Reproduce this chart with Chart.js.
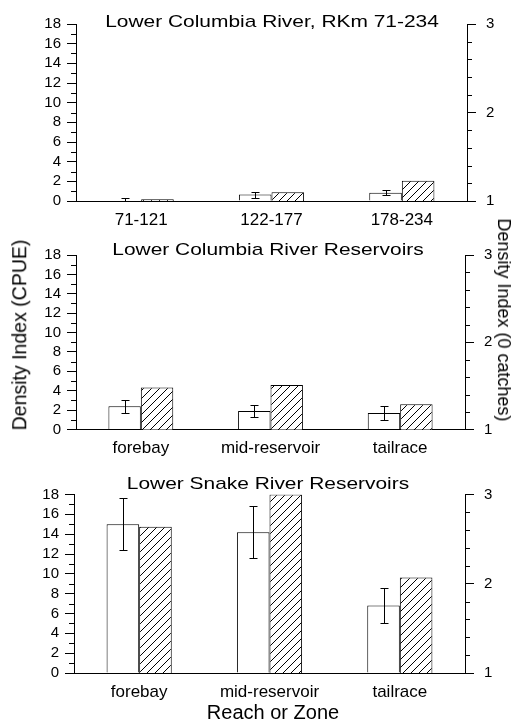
<!DOCTYPE html>
<html>
<head>
<meta charset="utf-8">
<script src="https://cdn.jsdelivr.net/npm/chart.js@4.4.1/dist/chart.umd.min.js"></script>
<style>
    body { margin: 0; background: #fff; }
    #page { position: relative; width: 517px; height: 725px; overflow: hidden;
            font-family: "Liberation Sans", Arial, sans-serif; color: #000; }
    canvas { position: absolute; left: 0; }
    .txt { position: absolute; white-space: nowrap; line-height: 1; }
    .titre { font-size: 17px; transform: translate(-50%, -50%) scaleX(1.23); }
    .axe-g { font-size: 19.5px; transform: translate(-50%, -50%) rotate(-90deg); }
    .axe-d { font-size: 18px; transform: translate(-50%, -50%) rotate(90deg); }
    .axe-x { font-size: 20px; transform: translate(-50%, -50%); }
</style>
</head>
<body>
<div id="page">
    <canvas id="c1" width="517" height="236" style="top:0px"></canvas>
    <canvas id="c2" width="517" height="232" style="top:236px"></canvas>
    <canvas id="c3" width="517" height="257" style="top:468px"></canvas>

    <div class="txt titre" style="left:272px; top:21px">Lower Columbia River, RKm 71-234</div>
    <div class="txt titre" style="left:268px; top:249px">Lower Columbia River Reservoirs</div>
    <div class="txt titre" style="left:268px; top:483px">Lower Snake River Reservoirs</div>
    <div class="txt axe-g" style="left:20px; top:335px">Density Index (CPUE)</div>
    <div class="txt axe-d" style="left:504px; top:320px">Density Index (0 catches)</div>
    <div class="txt axe-x" style="left:273px; top:712px">Reach or Zone</div>
</div>

<script>
// Données
const categoriesTroncons = ["71-121", "122-177", "178-234"];
const categoriesZones = ["forebay", "mid-reservoir", "tailrace"];

// Lower Columbia River, RKm 71-234
const cpueColumbia = [0.05, 0.65, 0.85];
const erreurColumbia = [0.3, 0.3, 0.25];
const zeroColumbia = [1.02, 1.1, 1.23];

// Lower Columbia River Reservoirs
const cpueReservoirs = [2.4, 1.9, 1.7];
const erreurReservoirs = [0.65, 0.6, 0.75];
const zeroReservoirs = [1.48, 1.51, 1.29];

// Lower Snake River Reservoirs
const cpueSnake = [15.0, 14.2, 6.8];
const erreurSnake = [2.6, 2.65, 1.75];
const zeroSnake = [2.64, 3.0, 2.07];

// Graduations secondaires (sans étiquette)
const mineuresGauche = [1, 3, 5, 7, 9, 11, 13, 15, 17];
const mineuresDroite = [1.2, 1.4, 1.6, 1.8, 2.2, 2.4, 2.6, 2.8];

const police = "'Liberation Sans', Arial, sans-serif";

// Motif hachuré pour les barres "0 catches"
function creerHachures(ctx) {
    const c = document.createElement("canvas");
    c.width = 8;
    c.height = 8;
    const g = c.getContext("2d");
    g.fillStyle = "#fff";
    g.fillRect(0, 0, 8, 8);
    g.strokeStyle = "#000";
    g.lineWidth = 1;
    g.beginPath();
    g.moveTo(0, 8); g.lineTo(8, 0);
    g.moveTo(-1, 1); g.lineTo(1, -1);
    g.moveTo(7, 9); g.lineTo(9, 7);
    g.stroke();
    return ctx.createPattern(c, "repeat");
}

// Barres d'erreur sur les barres blanches
const pluginErreurs = {
    id: "barresErreur",
    afterDatasetsDraw(chart) {
        const ds = chart.data.datasets[0];
        const meta = chart.getDatasetMeta(0);
        const y = chart.scales.y;
        const ctx = chart.ctx;
        ctx.save();
        ctx.strokeStyle = "#000";
        ctx.lineWidth = 1;
        meta.data.forEach((barre, i) => {
            const v = ds.data[i];
            const e = ds.erreurs[i];
            const x = Math.round(barre.x) + 0.5;
            const haut = Math.round(y.getPixelForValue(v + e)) + 0.5;
            const bas = Math.round(y.getPixelForValue(Math.max(v - e, 0))) + 0.5;
            ctx.beginPath();
            ctx.moveTo(x, haut); ctx.lineTo(x, bas);
            ctx.moveTo(x - 4, haut); ctx.lineTo(x + 4, haut);
            if (v - e > 0) {
                ctx.moveTo(x - 4, bas); ctx.lineTo(x + 4, bas);
            }
            ctx.stroke();
        });
        ctx.restore();
    }
};

// Petites graduations intermédiaires
const pluginMineures = {
    id: "graduationsMineures",
    afterDraw(chart) {
        const ctx = chart.ctx;
        const y = chart.scales.y;
        const y1 = chart.scales.y1;
        ctx.save();
        ctx.strokeStyle = "#000";
        ctx.lineWidth = 1;
        ctx.beginPath();
        mineuresGauche.forEach((v) => {
            const py = Math.round(y.getPixelForValue(v)) + 0.5;
            ctx.moveTo(chart.chartArea.left - 5, py);
            ctx.lineTo(chart.chartArea.left, py);
        });
        mineuresDroite.forEach((v) => {
            const py = Math.round(y1.getPixelForValue(v)) + 0.5;
            ctx.moveTo(chart.chartArea.right, py);
            ctx.lineTo(chart.chartArea.right + 5, py);
        });
        ctx.stroke();
        ctx.restore();
    }
};

function genererPanneau(p) {
    const ctx = document.getElementById(p.id).getContext("2d");

    return new Chart(ctx, {
        type: "bar",
        data: {
            labels: p.categories,
            datasets: [
                {
                    label: "Density Index (CPUE)",
                    data: p.cpue,
                    erreurs: p.erreurs,
                    yAxisID: "y",
                    backgroundColor: "#fff",
                    borderColor: "#000",
                    borderWidth: 1,
                },
                {
                    label: "Density Index (0 catches)",
                    data: p.zero,
                    yAxisID: "y1",
                    backgroundColor: creerHachures(ctx),
                    borderColor: "#000",
                    borderWidth: 1,
                },
            ],
        },
        options: {
            responsive: false,
            animation: false,
            devicePixelRatio: 1,
            layout: { padding: { top: p.zoneHaut, left: 0, right: 0, bottom: 0 } },
            datasets: { bar: { categoryPercentage: 0.5, barPercentage: 1.0 } },
            plugins: {
                legend: { display: false },
                tooltip: { enabled: false },
                title: { display: false },
            },
            scales: {
                x: {
                    offset: true,
                    grid: { display: false, drawTicks: false },
                    border: { display: true, color: "#000", width: 1 },
                    ticks: { color: "#000", font: { family: police, size: 17 }, padding: 9, maxRotation: 0 },
                    afterFit: (s) => { s.height = p.hauteur - p.zoneBas; },
                },
                y: {
                    position: "left",
                    min: 0,
                    max: 18,
                    ticks: { stepSize: 2, autoSkip: false, color: "#000", font: { family: police, size: 15 }, padding: 6 },
                    grid: { drawOnChartArea: false, color: "#000", tickLength: 9 },
                    border: { color: "#000", width: 1 },
                    afterFit: (s) => { s.width = p.gauche; },
                },
                y1: {
                    position: "right",
                    min: 1,
                    max: 3,
                    ticks: { stepSize: 1, autoSkip: false, color: "#000", font: { family: police, size: 15 }, padding: 10 },
                    grid: { drawOnChartArea: false, color: "#000", tickLength: 9 },
                    border: { color: "#000", width: 1 },
                    afterFit: (s) => { s.width = 517 - p.droite; },
                },
            },
        },
        plugins: [pluginErreurs, pluginMineures],
    });
}

genererPanneau({ id: "c1", hauteur: 236, zoneHaut: 24, zoneBas: 201, gauche: 76, droite: 467,
    categories: categoriesTroncons, cpue: cpueColumbia, erreurs: erreurColumbia, zero: zeroColumbia });
genererPanneau({ id: "c2", hauteur: 232, zoneHaut: 15, zoneBas: 193.5, gauche: 76, droite: 465,
    categories: categoriesZones, cpue: cpueReservoirs, erreurs: erreurReservoirs, zero: zeroReservoirs });
genererPanneau({ id: "c3", hauteur: 257, zoneHaut: 26.5, zoneBas: 205, gauche: 74, droite: 465,
    categories: categoriesZones, cpue: cpueSnake, erreurs: erreurSnake, zero: zeroSnake });
</script>
</body>
</html>
